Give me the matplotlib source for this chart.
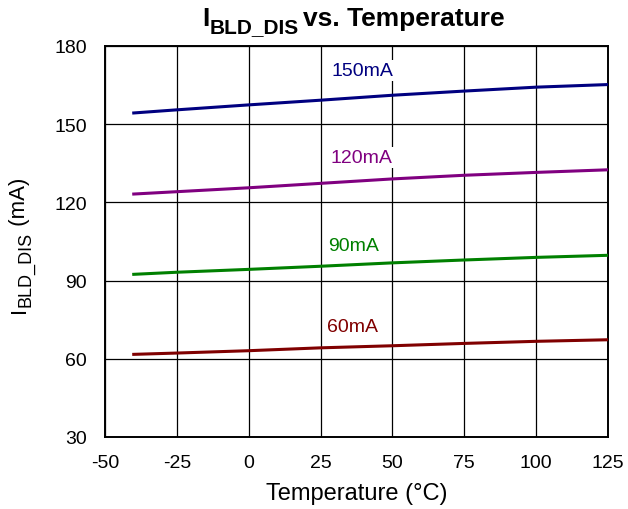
import matplotlib
matplotlib.use('Agg')
import matplotlib.pyplot as plt

plt.rcParams['font.family'] = ['Liberation Sans', 'DejaVu Sans']
plt.rcParams['axes.unicode_minus'] = False

# temperature points (°C)
temp = [-40, -25, 0, 25, 50, 75, 100, 125]

# bleeder discharge current for each setting (mA)
i_150 = [154.3, 155.5, 157.4, 159.2, 161.1, 162.7, 164.2, 165.2]
i_120 = [123.2, 124.1, 125.6, 127.3, 129.0, 130.4, 131.5, 132.5]
i_90 = [92.4, 93.2, 94.3, 95.5, 96.8, 97.9, 98.9, 99.7]
i_60 = [61.7, 62.2, 63.1, 64.2, 65.0, 65.9, 66.7, 67.3]

series = [i_150, i_120, i_90, i_60]
names = ['150mA', '120mA', '90mA', '60mA']
colors = ['#000080', '#800080', '#008000', '#800000']
# label anchor points (x, y in data units)
label_x = [39.6, 39.1, 36.6, 36.1]
label_y = [170.6, 137.3, 103.4, 72.4]

x_ticks = [-50, -25, 0, 25, 50, 75, 100, 125]
y_ticks = [30, 60, 90, 120, 150, 180]

fig = plt.figure(figsize=(6.28, 5.10), dpi=100)
ax = fig.add_axes([0.1672, 0.1412, 0.801, 0.7667])

for vals, name, col, lx, ly in zip(series, names, colors, label_x, label_y):
    ax.plot(temp, vals, color=col, linewidth=2.2, zorder=3)
    ax.text(lx, ly, name, color=col, fontsize=14, ha='center', va='center', zorder=4,
            bbox=dict(facecolor='white', edgecolor='none', pad=1.5))

ax.set_xlim(-50, 125)
ax.set_ylim(30, 180)
ax.set_xticks(x_ticks)
ax.set_yticks(y_ticks)
ax.grid(True, color='black', linewidth=0.9)
ax.tick_params(length=0, labelsize=14)
ax.tick_params(axis='x', pad=12)
ax.tick_params(axis='y', pad=13)
for sp in ax.spines.values():
    sp.set_linewidth(1.4)

ax.set_xlabel('Temperature (°C)', fontsize=17, labelpad=8)

# y label built in pieces so the subscript keeps its larger size
y1 = fig.text(19.5 / 628, 1 - 313 / 510, 'I', rotation=90, fontsize=16,
              ha='center', va='bottom')
y2 = ax.annotate('BLD_DIS', xy=(0.5, 1), xycoords=y1, xytext=(4.3, 0),
                 textcoords='offset points', rotation=90, fontsize=13,
                 ha='center', va='bottom')
ax.annotate(' (mA)', xy=(0.5, 1), xycoords=(y1, y2), rotation=90, fontsize=16,
            ha='center', va='bottom')

# title, same idea
t1 = fig.text(202 / 628, 1 - 26 / 510, 'I', fontsize=19, fontweight='bold',
              ha='left', va='baseline')
t2 = ax.annotate('BLD_DIS', xy=(1, 0), xycoords=t1, xytext=(0, -4.5),
                 textcoords='offset points', fontsize=15, fontweight='bold',
                 ha='left', va='bottom')
ax.annotate('vs. Temperature', xy=(1, 0), xycoords=(t2, t1), xytext=(3, 0),
            textcoords='offset points', fontsize=19, fontweight='bold',
            ha='left', va='bottom')

fig.savefig('out.png', dpi=100)
